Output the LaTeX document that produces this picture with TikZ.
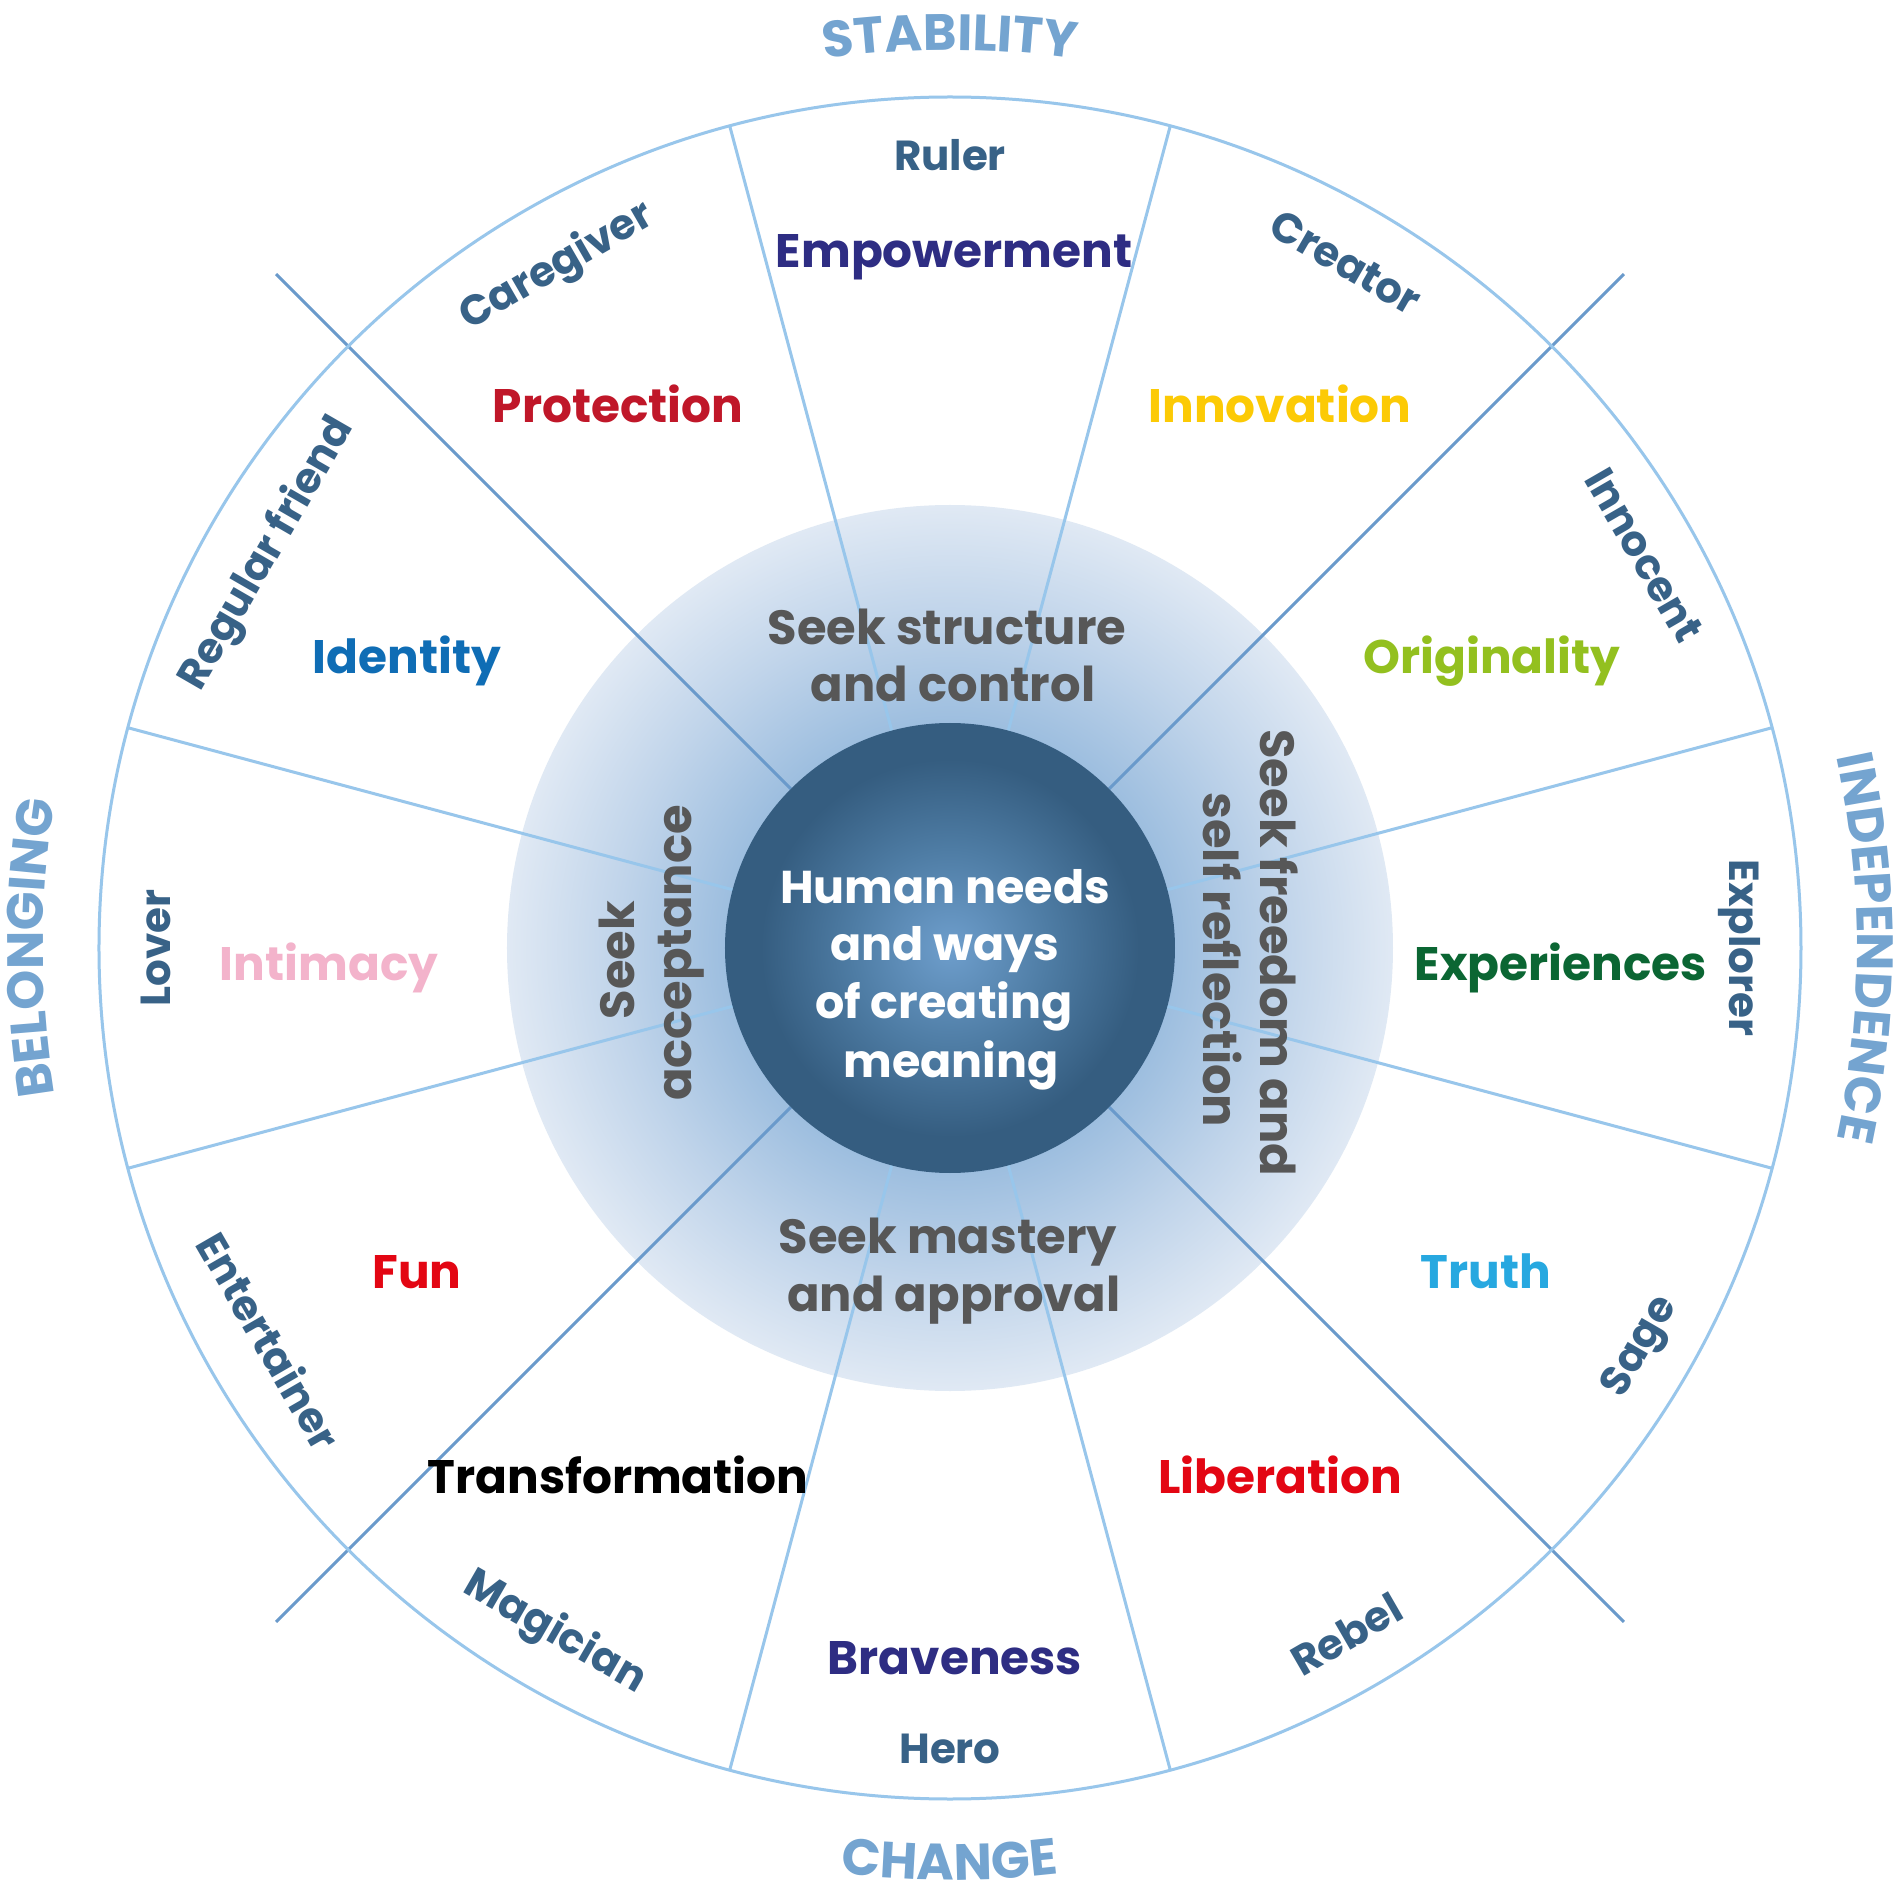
\documentclass[tikz,border=0pt]{standalone}
\usepackage{fontspec}
\setmainfont{Poppins}
\usetikzlibrary{decorations.text}

\definecolor{catblue}{HTML}{74A4D0}
\definecolor{archblue}{HTML}{386287}
\definecolor{seekgray}{HTML}{575757}
\definecolor{linelight}{HTML}{98C6EB}
\definecolor{linedark}{HTML}{6A9ACB}
\definecolor{ringA}{HTML}{8FB4DA}
\definecolor{ringB}{HTML}{9DBEDF}
\definecolor{ringC}{HTML}{C0D4EA}
\definecolor{ringD}{HTML}{E0E9F4}
\definecolor{coreA}{HTML}{6E9ECC}
\definecolor{coreB}{HTML}{4E7CA4}
\definecolor{coreC}{HTML}{355D80}
\definecolor{cNavy}{HTML}{2E2D83}
\definecolor{cCrimson}{HTML}{C01729}
\definecolor{cYellow}{HTML}{FCCA05}
\definecolor{cBlue}{HTML}{0F6DB5}
\definecolor{cLime}{HTML}{93C01F}
\definecolor{cPink}{HTML}{F3B3CB}
\definecolor{cGreen}{HTML}{0B6633}
\definecolor{cCyan}{HTML}{27A8E0}
\definecolor{cRed}{HTML}{E30613}

% the path's radius corresponds to 25bp of the shading
\pgfdeclareradialshading{ringshade}{\pgfpoint{0bp}{0bp}}{color(0bp)=(ringA); color(12.7bp)=(ringB); color(18.8bp)=(ringC); color(25bp)=(ringD); color(50bp)=(ringD)}
\pgfdeclareradialshading{coreshade}{\pgfpoint{0bp}{0bp}}{color(0bp)=(coreA); color(11bp)=(coreB); color(21bp)=(coreC); color(25bp)=(coreC); color(50bp)=(coreC)}

\newcommand\catfont{\fontsize{51}{61}\selectfont\bfseries\color{catblue}}

\tikzset{
  seclight/.style={draw=linelight, line width=3},
  secdark/.style={draw=linedark, line width=3},
  arch/.style={font=\fontsize{42}{50}\selectfont\bfseries, text=archblue, anchor=base, inner sep=0pt},
  val/.style={font=\fontsize{47}{56}\selectfont\bfseries, anchor=base, inner sep=0pt},
  seek/.style={font=\fontsize{48}{58}\selectfont\bfseries, text=seekgray, anchor=base, inner sep=0pt},
  core/.style={font=\fontsize{46}{56}\selectfont\bfseries, text=white, anchor=base, inner sep=0pt},
}

\begin{document}
\begin{tikzpicture}[x=1pt,y=1pt]
\useasboundingbox (-950,-948) rectangle (949,948);
\fill[white] (-950,-948) rectangle (949,948);

% gradient ring
\shade[shading=ringshade] (0,0) circle[radius=443];

% sector lines
\foreach \a in {15,75,105,165,195,255,285,345}
  \draw[seclight] (\a:225) -- (\a:851);
\foreach \a in {45,135,225,315}
  \draw[secdark] (\a:225) -- (\a:953);

% outer circle
\draw[draw=linelight, line width=3] (0,0) circle[radius=851];

% core
\shade[shading=coreshade] (0,0) circle[radius=225];

% category labels along arcs
\path[decorate, decoration={text along path, text align=center, text={|\catfont|STABILITY}}]
  (105:898) arc[start angle=105, end angle=75, radius=898];
\path[decorate, decoration={text along path, text align=center, text={|\catfont|CHANGE}}]
  (255:932) arc[start angle=255, end angle=285, radius=932];
\path[decorate, decoration={text along path, text align=center, text={|\catfont|BELONGING}}]
  (195:907) arc[start angle=195, end angle=165, radius=907];
\path[decorate, decoration={text along path, text align=center, text={|\catfont|INDEPENDENCE}}]
  (17:907) arc[start angle=17, end angle=-17, radius=907];

% archetypes (outer ring)
\node[arch, rotate=0]   (ruler)     at (90:777)   {Ruler};
\node[arch, rotate=-30] (creator)   at (60:777)   {Creator};
\node[arch, rotate=-60] (innocent)  at (29.5:783) {Innocent};
\node[arch, rotate=-90] (explorer)  at (0:779)    {Explorer};
\node[arch, rotate=60]  (sage)      at (-30:808)  {Sage};
\node[arch, rotate=30]  (rebel)     at (-60:808)  {Rebel};
\node[arch, rotate=0]   (hero)      at (-90:815)  {Hero};
\node[arch, rotate=-30] (magician)  at (-120:802) {Magician};
\node[arch, rotate=-60] (entert)    at (-150:802) {Entertainer};
\node[arch, rotate=90]  (lover)     at (180:779)  {Lover};
\node[arch, rotate=60]  (regular)   at (150:777)  {Regular friend};
\node[arch, rotate=30]  (caregiver) at (120:775)  {Caregiver};

% values
\node[val, text=cNavy]    (empow)  at (4,680)     {Empowerment};
\node[val, text=cCrimson] (protec) at (-332,525)  {Protection};
\node[val, text=cYellow]  (innov)  at (330,525)   {Innovation};
\node[val, text=cBlue]    (ident)  at (-543,274)  {Identity};
\node[val, text=cLime]    (orig)   at (542,274)   {Originality};
\node[val, text=cPink]    (intim)  at (-621,-32)  {Intimacy};
\node[val, text=cGreen]   (exper)  at (611,-32)   {Experiences};
\node[val, text=cRed]     (fun)    at (-533,-340) {Fun};
\node[val, text=cCyan]    (truth)  at (536,-340)  {Truth};
\node[val, text=black]    (transf) at (-332,-545) {Transformation};
\node[val, text=cRed]     (liber)  at (330,-545)  {Liberation};
\node[val, text=cNavy]    (brave)  at (5,-726)    {Braveness};

% seek labels
\node[seek] (structA) at (-3,303)  {Seek structure};
\node[seek] (structB) at (3,246)   {and control};
\node[seek] (mastA)   at (-2,-305) {Seek mastery};
\node[seek] (mastB)   at (4,-363)  {and approval};
\node[seek, rotate=90]  (accA) at (-315,-12) {Seek};
\node[seek, rotate=90]  (accB) at (-258,-5)  {acceptance};
\node[seek, rotate=-90] (freeA) at (310,-5)  {Seek freedom and};
\node[seek, rotate=-90] (freeB) at (253,-12) {self reflection};

% core text
\node[core] (coreA) at (-5,45)   {Human needs};
\node[core] (coreB) at (-5,-12)  {and ways};
\node[core] (coreC) at (-6,-70)  {of creating};
\node[core] (coreD) at (1,-129)  {meaning};
\end{tikzpicture}
\end{document}
